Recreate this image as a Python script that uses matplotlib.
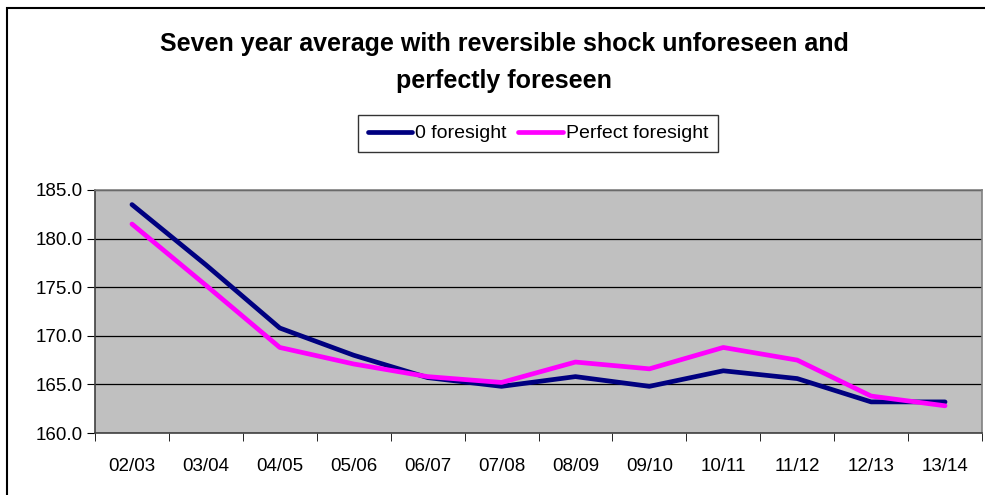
import matplotlib
matplotlib.use("Agg")
import matplotlib.pyplot as plt
from matplotlib.patches import Rectangle
import numpy as np

categories = ["02/03", "03/04", "04/05", "05/06", "06/07", "07/08",
              "08/09", "09/10", "10/11", "11/12", "12/13", "13/14"]
zero_foresight = [183.5, 177.3, 170.8, 168.0, 165.7, 164.8,
                  165.8, 164.8, 166.4, 165.6, 163.2, 163.2]
perfect_foresight = [181.5, 175.2, 168.8, 167.1, 165.8, 165.2,
                     167.3, 166.6, 168.8, 167.5, 163.8, 162.8]
y_ticks = [160, 165, 170, 175, 180, 185]

plt.rcParams['font.family'] = ['Liberation Sans', 'DejaVu Sans']

fig = plt.figure(figsize=(9.85, 4.95), dpi=100)
fig.patch.set_facecolor('white')

# outer chart border
fig.patches.append(Rectangle((7/985, -0.05), 1.1, 1 - 8/495 + 0.05,
                             transform=fig.transFigure, fill=False,
                             edgecolor='black', linewidth=1.5))

ax = fig.add_axes([95/985, 1 - 433/495, (982 - 95)/985, (433 - 190)/495])
ax.set_facecolor('#C0C0C0')

x = np.arange(len(categories))
ax.plot(x, zero_foresight, color='#000080', linewidth=3.4,
        label='0 foresight', solid_capstyle='round', zorder=3)
ax.plot(x, perfect_foresight, color='#FF00FF', linewidth=3.4,
        label='Perfect foresight', solid_capstyle='round', zorder=3)

ax.set_xlim(-0.5, len(categories) - 0.5)
ax.set_ylim(160, 185)
ax.set_yticks(y_ticks)
ax.set_yticklabels([f"{v:.1f}" for v in y_ticks])
ax.yaxis.grid(True, color='black', linewidth=0.9)
ax.set_axisbelow(True)

ax.set_xticks(x)
ax.set_xticklabels(categories)
ax.set_xticks(np.arange(-0.5, len(categories), 1.0), minor=True)
ax.tick_params(axis='x', which='major', length=0, pad=18, labelsize=13.5)
ax.tick_params(axis='x', which='minor', length=6, direction='out', color='black')
ax.tick_params(axis='y', length=6, direction='out', labelsize=13.5, pad=3)

for side in ['top', 'right']:
    ax.spines[side].set_color('#808080')
    ax.spines[side].set_linewidth(1.2)
for side in ['left', 'bottom']:
    ax.spines[side].set_color('#404040')
    ax.spines[side].set_linewidth(1.2)

fig.text(504/985, 1 - 44/495, "Seven year average with reversible shock unforeseen and",
         ha='center', va='center', fontsize=18, fontweight='bold')
fig.text(504/985, 1 - 81/495, "perfectly foreseen",
         ha='center', va='center', fontsize=18, fontweight='bold')

leg = fig.legend(loc='center', bbox_to_anchor=(538/985, 1 - 133.5/495),
                 ncol=2, frameon=True, fancybox=False, fontsize=14,
                 handlelength=2.3, handletextpad=0.15, columnspacing=0.6,
                 borderpad=0.5, borderaxespad=0)
leg.get_frame().set_edgecolor('black')
leg.get_frame().set_linewidth(1.0)

fig.savefig("out.png", dpi=100)
